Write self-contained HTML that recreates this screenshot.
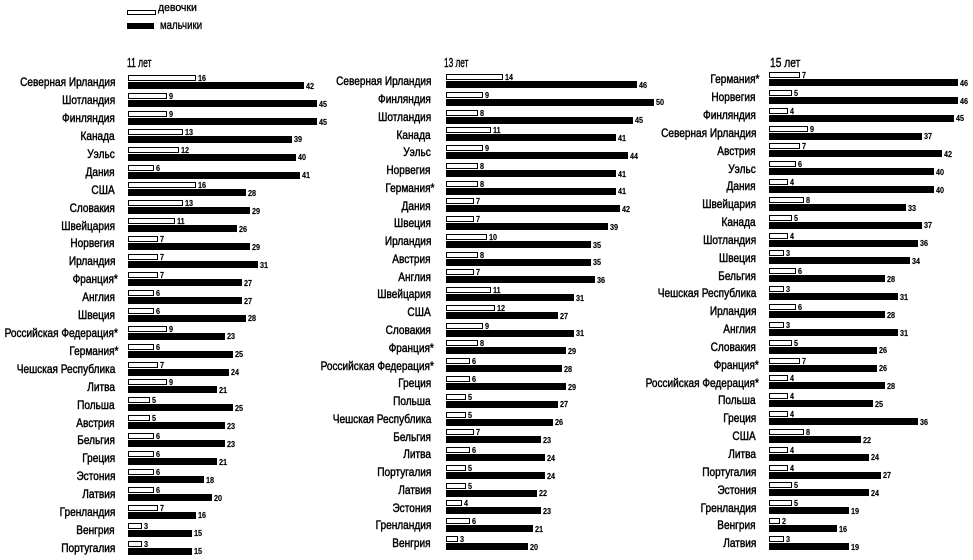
<!DOCTYPE html>
<html>
<head>
<meta charset="utf-8">
<style>
html,body{margin:0;padding:0}
body{width:973px;height:560px;background:#fff;position:relative;overflow:hidden;font-family:"Liberation Sans",sans-serif;color:#000}
.p{position:absolute;width:0}
.r{position:relative;height:var(--h)}
.l{position:absolute;right:var(--g);top:1.3px;font-size:12px;line-height:12px;white-space:nowrap;transform:scaleX(.84);transform-origin:100% 50%;-webkit-text-stroke:.45px #000}
.l.a{right:calc(var(--g) - 3px)}
.w{position:absolute;left:0;top:0;height:6px;box-sizing:border-box;border:1.2px solid #000;background:#fff;width:calc(var(--v)*var(--k) + var(--b))}
.k{position:absolute;left:0;top:7px;height:7px;background:#000;width:calc(var(--v)*var(--k) + var(--b))}
.n{position:absolute;left:100%;font-size:8.5px;line-height:8.5px;font-weight:bold;transform:scaleX(.85);transform-origin:0 50%;white-space:nowrap;-webkit-text-stroke:.15px #000}
.w .n{margin-left:3px;bottom:-2.5px}
.k .n{margin-left:2px;bottom:-1.2px}
.t{position:absolute;font-size:12.5px;line-height:12.5px;transform-origin:0 50%;white-space:nowrap;-webkit-text-stroke:.4px #000}
.lg{position:absolute;white-space:nowrap;transform-origin:0 50%;-webkit-text-stroke:.35px #000}
</style>
</head>
<body>
<div style="position:absolute;left:127px;top:10px;width:29px;height:5px;border:1.5px solid #000;box-sizing:border-box;background:#fff"></div>
<div class="lg" style="left:158px;top:2.7px;font-size:11px;line-height:11px;transform:scaleX(.95)">девочки</div>
<div style="position:absolute;left:127px;top:22.5px;width:27px;height:6.5px;background:#000"></div>
<div class="lg" style="left:160px;top:20.8px;font-size:11.5px;line-height:11.5px;transform:scaleX(.84)">мальчики</div>

<div class="t" style="left:127px;top:56.6px;transform:scaleX(.68)">11 лет</div>
<div class="t" style="left:444px;top:57.4px;transform:scaleX(.66)">13 лет</div>
<div class="t" style="left:770px;top:56.6px;transform:scaleX(.82)">15 лет</div>

<div class="p" style="left:128px;top:75px;--h:17.92px;--k:4.17px;--b:1px;--g:13px">
<div class="r"><span class="l">Северная Ирландия</span><div class="w" style="--v:16"><span class="n">16</span></div><div class="k" style="--v:42"><span class="n">42</span></div></div>
<div class="r"><span class="l">Шотландия</span><div class="w" style="--v:9"><span class="n">9</span></div><div class="k" style="--v:45"><span class="n">45</span></div></div>
<div class="r"><span class="l">Финляндия</span><div class="w" style="--v:9"><span class="n">9</span></div><div class="k" style="--v:45"><span class="n">45</span></div></div>
<div class="r"><span class="l">Канада</span><div class="w" style="--v:13"><span class="n">13</span></div><div class="k" style="--v:39"><span class="n">39</span></div></div>
<div class="r"><span class="l">Уэльс</span><div class="w" style="--v:12"><span class="n">12</span></div><div class="k" style="--v:40"><span class="n">40</span></div></div>
<div class="r"><span class="l">Дания</span><div class="w" style="--v:6"><span class="n">6</span></div><div class="k" style="--v:41"><span class="n">41</span></div></div>
<div class="r"><span class="l">США</span><div class="w" style="--v:16"><span class="n">16</span></div><div class="k" style="--v:28"><span class="n">28</span></div></div>
<div class="r"><span class="l">Словакия</span><div class="w" style="--v:13"><span class="n">13</span></div><div class="k" style="--v:29"><span class="n">29</span></div></div>
<div class="r"><span class="l">Швейцария</span><div class="w" style="--v:11"><span class="n">11</span></div><div class="k" style="--v:26"><span class="n">26</span></div></div>
<div class="r"><span class="l">Норвегия</span><div class="w" style="--v:7"><span class="n">7</span></div><div class="k" style="--v:29"><span class="n">29</span></div></div>
<div class="r"><span class="l">Ирландия</span><div class="w" style="--v:7"><span class="n">7</span></div><div class="k" style="--v:31"><span class="n">31</span></div></div>
<div class="r"><span class="l a">Франция*</span><div class="w" style="--v:7"><span class="n">7</span></div><div class="k" style="--v:27"><span class="n">27</span></div></div>
<div class="r"><span class="l">Англия</span><div class="w" style="--v:6"><span class="n">6</span></div><div class="k" style="--v:27"><span class="n">27</span></div></div>
<div class="r"><span class="l">Швеция</span><div class="w" style="--v:6"><span class="n">6</span></div><div class="k" style="--v:28"><span class="n">28</span></div></div>
<div class="r"><span class="l a">Российская Федерация*</span><div class="w" style="--v:9"><span class="n">9</span></div><div class="k" style="--v:23"><span class="n">23</span></div></div>
<div class="r"><span class="l a">Германия*</span><div class="w" style="--v:6"><span class="n">6</span></div><div class="k" style="--v:25"><span class="n">25</span></div></div>
<div class="r"><span class="l">Чешская Республика</span><div class="w" style="--v:7"><span class="n">7</span></div><div class="k" style="--v:24"><span class="n">24</span></div></div>
<div class="r"><span class="l">Литва</span><div class="w" style="--v:9"><span class="n">9</span></div><div class="k" style="--v:21"><span class="n">21</span></div></div>
<div class="r"><span class="l">Польша</span><div class="w" style="--v:5"><span class="n">5</span></div><div class="k" style="--v:25"><span class="n">25</span></div></div>
<div class="r"><span class="l">Австрия</span><div class="w" style="--v:5"><span class="n">5</span></div><div class="k" style="--v:23"><span class="n">23</span></div></div>
<div class="r"><span class="l">Бельгия</span><div class="w" style="--v:6"><span class="n">6</span></div><div class="k" style="--v:23"><span class="n">23</span></div></div>
<div class="r"><span class="l">Греция</span><div class="w" style="--v:6"><span class="n">6</span></div><div class="k" style="--v:21"><span class="n">21</span></div></div>
<div class="r"><span class="l">Эстония</span><div class="w" style="--v:6"><span class="n">6</span></div><div class="k" style="--v:18"><span class="n">18</span></div></div>
<div class="r"><span class="l">Латвия</span><div class="w" style="--v:6"><span class="n">6</span></div><div class="k" style="--v:20"><span class="n">20</span></div></div>
<div class="r"><span class="l">Гренландия</span><div class="w" style="--v:7"><span class="n">7</span></div><div class="k" style="--v:16"><span class="n">16</span></div></div>
<div class="r"><span class="l">Венгрия</span><div class="w" style="--v:3"><span class="n">3</span></div><div class="k" style="--v:15"><span class="n">15</span></div></div>
<div class="r"><span class="l">Португалия</span><div class="w" style="--v:3"><span class="n">3</span></div><div class="k" style="--v:15"><span class="n">15</span></div></div>
</div>

<div class="p" style="left:446px;top:74px;--h:17.77px;--k:4.17px;--b:-1px;--g:15px">
<div class="r"><span class="l">Северная Ирландия</span><div class="w" style="--v:14"><span class="n">14</span></div><div class="k" style="--v:46"><span class="n">46</span></div></div>
<div class="r"><span class="l">Финляндия</span><div class="w" style="--v:9"><span class="n">9</span></div><div class="k" style="--v:50"><span class="n">50</span></div></div>
<div class="r"><span class="l">Шотландия</span><div class="w" style="--v:8"><span class="n">8</span></div><div class="k" style="--v:45"><span class="n">45</span></div></div>
<div class="r"><span class="l">Канада</span><div class="w" style="--v:11"><span class="n">11</span></div><div class="k" style="--v:41"><span class="n">41</span></div></div>
<div class="r"><span class="l">Уэльс</span><div class="w" style="--v:9"><span class="n">9</span></div><div class="k" style="--v:44"><span class="n">44</span></div></div>
<div class="r"><span class="l">Норвегия</span><div class="w" style="--v:8"><span class="n">8</span></div><div class="k" style="--v:41"><span class="n">41</span></div></div>
<div class="r"><span class="l a">Германия*</span><div class="w" style="--v:8"><span class="n">8</span></div><div class="k" style="--v:41"><span class="n">41</span></div></div>
<div class="r"><span class="l">Дания</span><div class="w" style="--v:7"><span class="n">7</span></div><div class="k" style="--v:42"><span class="n">42</span></div></div>
<div class="r"><span class="l">Швеция</span><div class="w" style="--v:7"><span class="n">7</span></div><div class="k" style="--v:39"><span class="n">39</span></div></div>
<div class="r"><span class="l">Ирландия</span><div class="w" style="--v:10"><span class="n">10</span></div><div class="k" style="--v:35"><span class="n">35</span></div></div>
<div class="r"><span class="l">Австрия</span><div class="w" style="--v:8"><span class="n">8</span></div><div class="k" style="--v:35"><span class="n">35</span></div></div>
<div class="r"><span class="l">Англия</span><div class="w" style="--v:7"><span class="n">7</span></div><div class="k" style="--v:36"><span class="n">36</span></div></div>
<div class="r"><span class="l">Швейцария</span><div class="w" style="--v:11"><span class="n">11</span></div><div class="k" style="--v:31"><span class="n">31</span></div></div>
<div class="r"><span class="l">США</span><div class="w" style="--v:12"><span class="n">12</span></div><div class="k" style="--v:27"><span class="n">27</span></div></div>
<div class="r"><span class="l">Словакия</span><div class="w" style="--v:9"><span class="n">9</span></div><div class="k" style="--v:31"><span class="n">31</span></div></div>
<div class="r"><span class="l a">Франция*</span><div class="w" style="--v:8"><span class="n">8</span></div><div class="k" style="--v:29"><span class="n">29</span></div></div>
<div class="r"><span class="l a">Российская Федерация*</span><div class="w" style="--v:6"><span class="n">6</span></div><div class="k" style="--v:28"><span class="n">28</span></div></div>
<div class="r"><span class="l">Греция</span><div class="w" style="--v:6"><span class="n">6</span></div><div class="k" style="--v:29"><span class="n">29</span></div></div>
<div class="r"><span class="l">Польша</span><div class="w" style="--v:5"><span class="n">5</span></div><div class="k" style="--v:27"><span class="n">27</span></div></div>
<div class="r"><span class="l">Чешская Республика</span><div class="w" style="--v:5"><span class="n">5</span></div><div class="k" style="--v:26"><span class="n">26</span></div></div>
<div class="r"><span class="l">Бельгия</span><div class="w" style="--v:7"><span class="n">7</span></div><div class="k" style="--v:23"><span class="n">23</span></div></div>
<div class="r"><span class="l">Литва</span><div class="w" style="--v:6"><span class="n">6</span></div><div class="k" style="--v:24"><span class="n">24</span></div></div>
<div class="r"><span class="l">Португалия</span><div class="w" style="--v:5"><span class="n">5</span></div><div class="k" style="--v:24"><span class="n">24</span></div></div>
<div class="r"><span class="l">Латвия</span><div class="w" style="--v:5"><span class="n">5</span></div><div class="k" style="--v:22"><span class="n">22</span></div></div>
<div class="r"><span class="l">Эстония</span><div class="w" style="--v:4"><span class="n">4</span></div><div class="k" style="--v:23"><span class="n">23</span></div></div>
<div class="r"><span class="l">Гренландия</span><div class="w" style="--v:6"><span class="n">6</span></div><div class="k" style="--v:21"><span class="n">21</span></div></div>
<div class="r"><span class="l">Венгрия</span><div class="w" style="--v:3"><span class="n">3</span></div><div class="k" style="--v:20"><span class="n">20</span></div></div>
</div>

<div class="p" style="left:769px;top:72px;--h:17.85px;--k:4.05px;--b:3px;--g:13px">
<div class="r"><span class="l a">Германия*</span><div class="w" style="--v:7"><span class="n">7</span></div><div class="k" style="--v:46"><span class="n">46</span></div></div>
<div class="r"><span class="l">Норвегия</span><div class="w" style="--v:5"><span class="n">5</span></div><div class="k" style="--v:46"><span class="n">46</span></div></div>
<div class="r"><span class="l">Финляндия</span><div class="w" style="--v:4"><span class="n">4</span></div><div class="k" style="--v:45"><span class="n">45</span></div></div>
<div class="r"><span class="l">Северная Ирландия</span><div class="w" style="--v:9"><span class="n">9</span></div><div class="k" style="--v:37"><span class="n">37</span></div></div>
<div class="r"><span class="l">Австрия</span><div class="w" style="--v:7"><span class="n">7</span></div><div class="k" style="--v:42"><span class="n">42</span></div></div>
<div class="r"><span class="l">Уэльс</span><div class="w" style="--v:6"><span class="n">6</span></div><div class="k" style="--v:40"><span class="n">40</span></div></div>
<div class="r"><span class="l">Дания</span><div class="w" style="--v:4"><span class="n">4</span></div><div class="k" style="--v:40"><span class="n">40</span></div></div>
<div class="r"><span class="l">Швейцария</span><div class="w" style="--v:8"><span class="n">8</span></div><div class="k" style="--v:33"><span class="n">33</span></div></div>
<div class="r"><span class="l">Канада</span><div class="w" style="--v:5"><span class="n">5</span></div><div class="k" style="--v:37"><span class="n">37</span></div></div>
<div class="r"><span class="l">Шотландия</span><div class="w" style="--v:4"><span class="n">4</span></div><div class="k" style="--v:36"><span class="n">36</span></div></div>
<div class="r"><span class="l">Швеция</span><div class="w" style="--v:3"><span class="n">3</span></div><div class="k" style="--v:34"><span class="n">34</span></div></div>
<div class="r"><span class="l">Бельгия</span><div class="w" style="--v:6"><span class="n">6</span></div><div class="k" style="--v:28"><span class="n">28</span></div></div>
<div class="r"><span class="l">Чешская Республика</span><div class="w" style="--v:3"><span class="n">3</span></div><div class="k" style="--v:31"><span class="n">31</span></div></div>
<div class="r"><span class="l">Ирландия</span><div class="w" style="--v:6"><span class="n">6</span></div><div class="k" style="--v:28"><span class="n">28</span></div></div>
<div class="r"><span class="l">Англия</span><div class="w" style="--v:3"><span class="n">3</span></div><div class="k" style="--v:31"><span class="n">31</span></div></div>
<div class="r"><span class="l">Словакия</span><div class="w" style="--v:5"><span class="n">5</span></div><div class="k" style="--v:26"><span class="n">26</span></div></div>
<div class="r"><span class="l a">Франция*</span><div class="w" style="--v:7"><span class="n">7</span></div><div class="k" style="--v:26"><span class="n">26</span></div></div>
<div class="r"><span class="l a">Российская Федерация*</span><div class="w" style="--v:4"><span class="n">4</span></div><div class="k" style="--v:28"><span class="n">28</span></div></div>
<div class="r"><span class="l">Польша</span><div class="w" style="--v:4"><span class="n">4</span></div><div class="k" style="--v:25"><span class="n">25</span></div></div>
<div class="r"><span class="l">Греция</span><div class="w" style="--v:4"><span class="n">4</span></div><div class="k" style="--v:36"><span class="n">36</span></div></div>
<div class="r"><span class="l">США</span><div class="w" style="--v:8"><span class="n">8</span></div><div class="k" style="--v:22"><span class="n">22</span></div></div>
<div class="r"><span class="l">Литва</span><div class="w" style="--v:4"><span class="n">4</span></div><div class="k" style="--v:24"><span class="n">24</span></div></div>
<div class="r"><span class="l">Португалия</span><div class="w" style="--v:4"><span class="n">4</span></div><div class="k" style="--v:27"><span class="n">27</span></div></div>
<div class="r"><span class="l">Эстония</span><div class="w" style="--v:5"><span class="n">5</span></div><div class="k" style="--v:24"><span class="n">24</span></div></div>
<div class="r"><span class="l">Гренландия</span><div class="w" style="--v:5"><span class="n">5</span></div><div class="k" style="--v:19"><span class="n">19</span></div></div>
<div class="r"><span class="l">Венгрия</span><div class="w" style="--v:2"><span class="n">2</span></div><div class="k" style="--v:16"><span class="n">16</span></div></div>
<div class="r"><span class="l">Латвия</span><div class="w" style="--v:3"><span class="n">3</span></div><div class="k" style="--v:19"><span class="n">19</span></div></div>
</div>
</body>
</html>
